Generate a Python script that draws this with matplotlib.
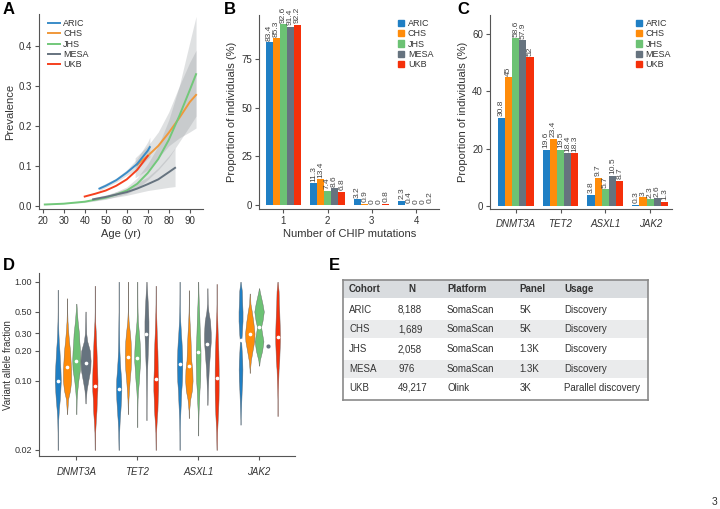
import matplotlib
matplotlib.use("Agg")
import matplotlib.pyplot as plt
from matplotlib.patches import Patch, Rectangle
import numpy as np

plt.rcParams["font.family"] = ["Liberation Sans", "DejaVu Sans"]

W, H = 720, 509
GREY = "#555555"
TXT = "#333333"

cohorts = ["ARIC", "CHS", "JHS", "MESA", "UKB"]
colors = ["#1f7fc4", "#ff8c0a", "#6cc274", "#66737f", "#f5300a"]
line_colors = ["#3a8cc8", "#f0983a", "#72c87a", "#66737f", "#f5401e"]

# Panel A: prevalence curves
aric_age = [47, 50, 55, 60, 65, 70, 71]
aric_prev = [0.043, 0.050, 0.064, 0.083, 0.105, 0.138, 0.147]
chs_age = [65, 70, 75, 80, 85, 90, 93]
chs_prev = [0.103, 0.125, 0.150, 0.183, 0.220, 0.260, 0.278]
jhs_age = [21, 30, 40, 50, 55, 60, 65, 70, 75, 80, 85, 90, 93]
jhs_prev = [0.003, 0.005, 0.010, 0.020, 0.028, 0.038, 0.055, 0.082, 0.117, 0.165, 0.225, 0.290, 0.330]
mesa_age = [44, 50, 55, 60, 65, 70, 75, 80, 83]
mesa_prev = [0.016, 0.022, 0.028, 0.034, 0.043, 0.054, 0.066, 0.084, 0.095]
ukb_age = [40, 45, 50, 55, 60, 65, 70]
ukb_prev = [0.023, 0.030, 0.038, 0.050, 0.066, 0.090, 0.125]

# confidence bands
aric_band_age = [47, 55, 60, 65, 70, 71]
aric_low = [0.038, 0.059, 0.076, 0.092, 0.118, 0.122]
aric_high = [0.048, 0.069, 0.090, 0.118, 0.160, 0.172]
chs_band_age = [64, 70, 75, 80, 85, 90, 93]
chs_low = [0.070, 0.090, 0.120, 0.150, 0.170, 0.185, 0.195]
chs_high = [0.120, 0.150, 0.185, 0.235, 0.300, 0.360, 0.390]
jhs_band_age = [21, 40, 50, 60, 65, 70, 75, 80, 85, 90, 93]
jhs_low = [0.002, 0.008, 0.016, 0.030, 0.043, 0.065, 0.090, 0.120, 0.160, 0.200, 0.225]
jhs_high = [0.004, 0.012, 0.024, 0.047, 0.070, 0.105, 0.150, 0.215, 0.300, 0.410, 0.475]
mesa_band_age = [44, 50, 60, 70, 75, 80, 83]
mesa_low = [0.012, 0.017, 0.026, 0.038, 0.042, 0.046, 0.048]
mesa_high = [0.020, 0.027, 0.043, 0.072, 0.095, 0.125, 0.145]

# Panel B
n_mutations = [1, 2, 3, 4]
mut_aric = [83.4, 11.3, 3.2, 2.3]
mut_chs = [85.3, 13.4, 0.9, 0.4]
mut_jhs = [92.6, 7.4, 0, 0]
mut_mesa = [91.4, 8.6, 0, 0]
mut_ukb = [92.2, 6.8, 0.8, 0.2]

# Panel C
genes = ["DNMT3A", "TET2", "ASXL1", "JAK2"]
gene_aric = [30.8, 19.6, 3.8, 0.3]
gene_chs = [45, 23.4, 9.7, 3]
gene_jhs = [58.6, 19.5, 5.7, 2.3]
gene_mesa = [57.9, 18.4, 10.5, 2.6]
gene_ukb = [52, 18.3, 8.7, 1.3]

# Panel D: violin half widths read at these VAF levels
vaf_levels = [1.0, 0.8, 0.6, 0.5, 0.4, 0.3, 0.25, 0.2, 0.16, 0.13, 0.1, 0.08, 0.065, 0.05, 0.04, 0.03, 0.02]

dnmt3a_widths = [
    [0, 0.3, 0.3, 0.3, 0.5, 1.1, 1.7, 2.8, 3.6, 4.4, 5, 4.2, 3.3, 1.7, 0.8, 0.4, 0.3],
    [0, 0, 0.3, 0.4, 0.8, 2.2, 3.3, 5, 5.8, 6.7, 6.7, 5, 1.7, 0.5, 0.3, 0, 0],
    [0, 0, 0.3, 1, 2.2, 4.4, 5, 6.1, 6.7, 6.1, 3.3, 1.7, 0.6, 0.3, 0, 0, 0],
    [0, 0, 0, 0.3, 0.6, 1.1, 2.8, 7.2, 8.3, 7.8, 4.4, 1.7, 0.6, 0.3, 0, 0, 0],
    [0.3, 0.3, 0.3, 0.3, 0.6, 1.7, 2.2, 2.8, 3.3, 3.9, 4.4, 4.2, 3.3, 2.8, 1.7, 0.6, 0.3],
]
tet2_widths = [
    [0.3, 0.3, 0.3, 0.3, 0.5, 0.7, 0.9, 1.2, 1.9, 2.8, 4.2, 4.4, 3.9, 2.8, 1.7, 0.8, 0.3],
    [0.3, 0.3, 0.3, 0.4, 1.1, 3.3, 4.4, 5, 5, 4.4, 2.8, 1.7, 0.8, 0.3, 0, 0, 0],
    [0.3, 0.3, 0.4, 0.6, 1.1, 2.8, 3.9, 4.7, 5, 3.9, 2.8, 1.4, 0.6, 0.3, 0.3, 0, 0],
    [0.5, 1.1, 2.2, 2.8, 3.3, 3.3, 2.8, 2.2, 1.7, 1.1, 0.8, 0.6, 0.4, 0.3, 0.3, 0, 0],
    [0.3, 0.3, 0.4, 0.6, 1.1, 1.7, 2.2, 2.8, 3.1, 3.3, 3.9, 3.9, 3.3, 2.8, 1.7, 0.6, 0.3],
]
asxl1_widths = [
    [0.3, 0.3, 0.4, 0.6, 1.1, 2.2, 3.1, 3.9, 4.4, 4.4, 3.9, 2.8, 2.2, 1.4, 0.8, 0.4, 0.3],
    [0, 0.3, 0.3, 0.5, 1.1, 2.2, 2.8, 3.3, 3.9, 5.6, 6.1, 5, 2.2, 0.5, 0.3, 0, 0],
    [0.3, 0.5, 1.1, 1.7, 2.2, 2.8, 3.3, 3.9, 3.9, 3.6, 3.3, 2.2, 1.7, 0.8, 0.4, 0.3, 0],
    [0, 0.3, 0.6, 1.7, 4.4, 5.6, 5.6, 4.4, 3.3, 2.2, 1.4, 0.8, 0.5, 0.3, 0, 0, 0],
    [0.3, 0.3, 0.3, 0.5, 1.1, 1.7, 2.2, 2.8, 3.1, 3.3, 3.3, 3.3, 3.1, 2.5, 1.7, 0.8, 0.3],
]
jak2_widths = [
    [1.1, 2.2, 2.8, 3.3, 3.3, 2.2, 1.1, 1.9, 2.8, 3.1, 2.8, 1.9, 1.4, 0.8, 0.3, 0.3, 0],
    [0, 0.3, 1.1, 3.3, 5.6, 7.8, 7.2, 4.4, 1.7, 0.4, 0.3, 0, 0, 0, 0, 0, 0],
    None,
    None,
    [1.1, 1.7, 2.2, 2.8, 3.3, 3.9, 3.9, 3.3, 2.8, 1.7, 1.1, 0.6, 0.3, 0.3, 0, 0, 0],
]
# two lobes, the waist falls between the shared levels
jak2_jhs_levels = [0.86, 0.8, 0.6, 0.5, 0.4, 0.35, 0.3, 0.25, 0.2, 0.16, 0.142]
jak2_jhs_widths = [0.3, 1.1, 5.6, 7.8, 5.6, 3.3, 5, 7.2, 5, 1.1, 0.3]
jak2_mesa_point = 0.225

vaf_top = [
    [0.83, 0.68, 0.60, 0.50, 0.91],
    [1.0, 1.0, 1.0, 1.0, 0.91],
    [1.0, 0.82, 1.0, 0.86, 0.95],
    [1.0, 0.76, 0.86, None, 1.0],
]
vaf_bottom = [
    [0.02, 0.046, 0.046, 0.059, 0.02],
    [0.02, 0.046, 0.034, 0.04, 0.02],
    [0.02, 0.042, 0.028, 0.057, 0.02],
    [0.036, 0.12, 0.142, None, 0.044],
]
vaf_median = [
    [0.10, 0.137, 0.16, 0.152, 0.089],
    [0.082, 0.175, 0.168, 0.295, 0.103],
    [0.148, 0.142, 0.197, 0.235, 0.106],
    [0.26, 0.295, 0.345, None, 0.275],
]

# Panel E
table_header = ["Cohort", "N", "Platform", "Panel", "Usage"]
table_n = ["8,188", "1,689", "2,058", "976", "49,217"]
table_platform = ["SomaScan", "SomaScan", "SomaScan", "SomaScan", "Olink"]
table_panel = ["5K", "5K", "1.3K", "1.3K", "3K"]
table_usage = ["Discovery", "Discovery", "Discovery", "Discovery", "Parallel discovery"]


def make_axes(fig, left, top, right, bottom):
    ax = fig.add_axes([left / W, 1 - bottom / H, (right - left) / W, (bottom - top) / H])
    ax.spines["top"].set_visible(False)
    ax.spines["right"].set_visible(False)
    ax.spines["left"].set_color(GREY)
    ax.spines["bottom"].set_color(GREY)
    ax.tick_params(colors=GREY, labelcolor=TXT, labelsize=7, length=3, width=0.8, pad=2)
    return ax


def place_ylabel(ax, text, px, size=8):
    # px is the label centre in figure pixels
    bbox = ax.get_position()
    ax.set_ylabel(text, fontsize=size, color=TXT, va="center")
    ax.yaxis.set_label_coords((px / W - bbox.x0) / bbox.width, 0.5)


def grouped_bars(ax, x, series):
    for i, vals in enumerate(series):
        offset = (i - 2) * 0.16
        for xi, v in zip(x, vals):
            ax.bar(xi + offset, v, 0.16, color=colors[i])
            ax.text(xi + offset, v + 0.008 * ax.get_ylim()[1], f"{v:g}", rotation=90, ha="center",
                    va="bottom", fontsize=6, color="#444444")


def bar_legend(ax, x, y):
    handles = [Patch(color=c, label=n) for c, n in zip(colors, cohorts)]
    ax.legend(handles=handles, loc="upper left", bbox_to_anchor=(x / W, 1 - y / H),
              bbox_transform=ax.figure.transFigure, frameon=False, fontsize=6.5, handlelength=0.66,
              handleheight=0.66, handletextpad=0.4, labelspacing=0.15, borderpad=0, borderaxespad=0,
              labelcolor=TXT)


fig = plt.figure(figsize=(W / 100, H / 100), dpi=100)

# A
ax = make_axes(fig, 38.7, 14, 203, 209)
for a, lo, hi in [(aric_band_age, aric_low, aric_high), (chs_band_age, chs_low, chs_high),
                  (jhs_band_age, jhs_low, jhs_high), (mesa_band_age, mesa_low, mesa_high)]:
    ax.fill_between(a, lo, hi, color="#8f9499", alpha=0.28, lw=0)
curves = [(aric_age, aric_prev), (chs_age, chs_prev), (jhs_age, jhs_prev), (mesa_age, mesa_prev), (ukb_age, ukb_prev)]
for i in [1, 2, 3, 0, 4]:
    ax.plot(curves[i][0], curves[i][1], color=line_colors[i], lw=1.4, label=cohorts[i], zorder=3)
handles, labels = ax.get_legend_handles_labels()
order = [labels.index(n) for n in cohorts]
ax.legend([handles[k] for k in order], cohorts, loc="upper left", bbox_to_anchor=(47.7 / W, 1 - 19 / H),
          bbox_transform=fig.transFigure, frameon=False, fontsize=6.5, handlelength=1.33, handletextpad=0.37,
          labelspacing=0.15, borderpad=0, borderaxespad=0, labelcolor=TXT)
ax.set_xlim(18.1, 96.3)
ax.set_ylim(-0.0083, 0.481)
ax.set_xticks(range(20, 100, 10))
ax.set_yticks([0, 0.1, 0.2, 0.3, 0.4])
ax.set_yticklabels(["0.0", "0.1", "0.2", "0.3", "0.4"])
ax.set_xlabel("Age (yr)", fontsize=8, color=TXT, labelpad=2)
place_ylabel(ax, "Prevalence", 10)

# B
ax = make_axes(fig, 259.3, 15, 439, 209)
ax.set_xlim(0.457, 4.52)
ax.set_ylim(-1.9, 97.3)
grouped_bars(ax, n_mutations, [mut_aric, mut_chs, mut_jhs, mut_mesa, mut_ukb])
ax.set_xticks(n_mutations)
ax.set_yticks([0, 25, 50, 75])
ax.set_xlabel("Number of CHIP mutations", fontsize=8, color=TXT, labelpad=2)
place_ylabel(ax, "Proportion of individuals (%)", 232)
bar_legend(ax, 398.3, 19)

# C
ax = make_axes(fig, 490, 15, 671.7, 209)
ax.set_xlim(0.426, 4.48)
ax.set_ylim(-1.15, 66.7)
x_gene = [1, 2, 3, 4]
grouped_bars(ax, x_gene, [gene_aric, gene_chs, gene_jhs, gene_mesa, gene_ukb])
ax.set_xticks(x_gene)
ax.set_xticklabels(genes, style="italic", fontsize=7)
ax.tick_params(axis="x", pad=4)
ax.set_yticks([0, 20, 40, 60])
place_ylabel(ax, "Proportion of individuals (%)", 463)
bar_legend(ax, 636, 19)

# D
ax = make_axes(fig, 38.7, 273.3, 295, 456)
ax.set_yscale("log")
ax.set_xlim(0.383, 4.59)
ax.set_ylim(0.01738, 1.216)
for g, widths in enumerate([dnmt3a_widths, tet2_widths, asxl1_widths, jak2_widths]):
    for c in range(5):
        xc = g + 1 + (c - 2) * 0.152
        if g == 3 and c == 3:
            ax.scatter([xc], [jak2_mesa_point], s=9, color=colors[c], zorder=4, lw=0)
            continue
        if g == 3 and c == 2:
            yy = np.array(jak2_jhs_levels)
            ww = np.array(jak2_jhs_widths) * 0.01
        else:
            keep = [k for k, v in enumerate(vaf_levels) if vaf_bottom[g][c] < v < vaf_top[g][c]]
            yy = np.array([vaf_top[g][c]] + [vaf_levels[k] for k in keep] + [vaf_bottom[g][c]])
            ww = np.array([0.3] + [max(widths[c][k], 0.3) for k in keep] + [0.3]) * 0.01
        ax.fill_betweenx(yy, xc - ww, xc + ww, facecolor=colors[c], edgecolor="#666666", lw=0.3)
        ax.scatter([xc], [vaf_median[g][c]], s=7, color="white", zorder=4, lw=0)
ax.set_xticks(x_gene)
ax.set_xticklabels(genes, style="italic", fontsize=7)
ax.set_yticks([0.02, 0.1, 0.2, 0.3, 0.5, 1.0])
ax.set_yticklabels(["0.02", "0.10", "0.20", "0.30", "0.50", "1.00"], fontsize=6.5)
ax.minorticks_off()
ax.tick_params(axis="x", pad=5)
place_ylabel(ax, "Variant allele fraction", 8, size=7)

# E
ax = fig.add_axes([343.3 / W, 1 - 400 / H, 305 / W, 120 / H])
ax.set_xlim(343.3, 648.3)
ax.set_ylim(400, 280)
ax.set_xticks([])
ax.set_yticks([])
for s in ax.spines.values():
    s.set_color("#8a8a8a")
    s.set_linewidth(1.2)
for y0, y1, c in [(280, 297.7, "#d9dcdf"), (320, 337.7, "#eaebec"), (360, 377.7, "#eaebec")]:
    ax.add_patch(Rectangle((343.3, y0), 305, y1 - y0, facecolor=c, lw=0))
header_x = [349, 411.7, 447, 519.7, 564.3]
for hx, label in zip(header_x, table_header):
    ax.text(hx, 289, label, fontsize=7, fontweight="bold", color="#333333", va="center",
            ha="center" if label == "N" else "left")
row_y = [310, 329.5, 349, 368.5, 388]
for i, y in enumerate(row_y):
    ax.text(349, y, cohorts[i], fontsize=7, color=TXT, va="center")
    ax.text(398, y, table_n[i], fontsize=7, color=TXT, va="center")
    ax.text(447, y, table_platform[i], fontsize=7, color=TXT, va="center")
    ax.text(519.7, y, table_panel[i], fontsize=7, color=TXT, va="center")
    ax.text(564.3, y, table_usage[i], fontsize=7, color=TXT, va="center")

# panel letters and page number
for letter, lx, ly in [("A", 3, 9), ("B", 224, 9), ("C", 457, 9), ("D", 3, 265), ("E", 329, 265)]:
    fig.text(lx / W, 1 - ly / H, letter, fontsize=12, fontweight="bold", color="black", va="center")
fig.text(715 / W, 1 - 502 / H, "3", fontsize=7.5, color=TXT, ha="center", va="center")

fig.savefig("out.png", dpi=100)
plt.close(fig)
